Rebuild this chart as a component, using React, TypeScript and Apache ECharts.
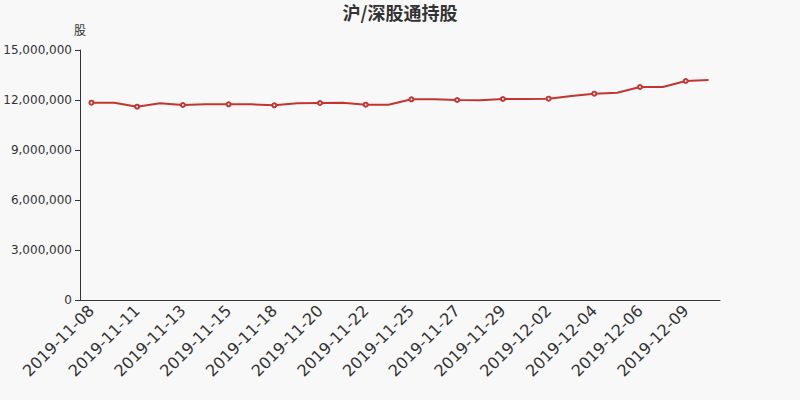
import React, { useEffect, useRef } from "react";
import * as echarts from "echarts";

const titleText = "沪/深股通持股";
const yAxisName = "股";

const dates = [
  "2019-11-08", "2019-11-09", "2019-11-11", "2019-11-12", "2019-11-13", "2019-11-14",
  "2019-11-15", "2019-11-16", "2019-11-18", "2019-11-19", "2019-11-20", "2019-11-21",
  "2019-11-22", "2019-11-23", "2019-11-25", "2019-11-26", "2019-11-27", "2019-11-28",
  "2019-11-29", "2019-11-30", "2019-12-02", "2019-12-03", "2019-12-04", "2019-12-05",
  "2019-12-06", "2019-12-07", "2019-12-09", "2019-12-10",
];

const holdings = [
  11840000, 11840000, 11600000, 11800000, 11700000, 11740000,
  11740000, 11740000, 11680000, 11800000, 11820000, 11840000,
  11720000, 11720000, 12040000, 12040000, 12000000, 11980000,
  12060000, 12060000, 12080000, 12240000, 12380000, 12440000,
  12780000, 12780000, 13140000, 13200000,
];

const yMin = 0;
const yMax = 15000000;
const yInterval = 3000000;

const LATIN = "DejaVu Sans";
const CJK = "Noto Sans CJK SC";

export default function App() {
  const ref = useRef<HTMLDivElement>(null);

  useEffect(() => {
    if (!ref.current) return;
    const chart = echarts.init(ref.current, undefined, { renderer: "svg" });
    chart.setOption({
      animation: false,
      backgroundColor: "#f8f8f8",
      textStyle: { fontFamily: LATIN },
      title: {
        text: titleText,
        left: "center",
        top: -2,
        textStyle: {
          fontSize: 18,
          fontWeight: "bold",
          color: "#333",
          fontFamily: CJK,
        },
      },
      grid: { left: 80, right: 80, top: 50, bottom: 100 },
      xAxis: {
        type: "category",
        data: dates,
        boundaryGap: true,
        axisLine: { lineStyle: { color: "#333" } },
        axisTick: { interval: 1, lineStyle: { color: "#333" } },
        axisLabel: {
          interval: 1,
          rotate: 45,
          fontSize: 16,
          fontFamily: LATIN,
          color: "#333",
          margin: 8,
        },
      },
      yAxis: {
        type: "value",
        name: yAxisName,
        min: yMin,
        max: yMax,
        interval: yInterval,
        nameTextStyle: { color: "#333", fontSize: 12, fontFamily: CJK },
        axisLine: { show: true, lineStyle: { color: "#333" } },
        axisTick: { show: true, lineStyle: { color: "#333" } },
        splitLine: { show: false },
        axisLabel: {
          color: "#333",
          fontSize: 12,
          fontFamily: LATIN,
          formatter: (v: number) => v.toLocaleString("en-US"),
        },
      },
      series: [
        {
          type: "line",
          data: holdings,
          symbol: "emptyCircle",
          symbolSize: (_v: number, p: any) => (p.dataIndex % 2 === 0 ? 4 : 0),
          showSymbol: true,
          showAllSymbol: true,
          lineStyle: { color: "#c23531", width: 2 },
          itemStyle: { color: "#c23531", borderColor: "#c23531", borderWidth: 1 },
        },
      ],
    });
    return () => chart.dispose();
  }, []);

  return (
    <div
      ref={ref}
      style={{ position: "fixed", left: 0, top: 0, width: 800, height: 400 }}
    />
  );
}
